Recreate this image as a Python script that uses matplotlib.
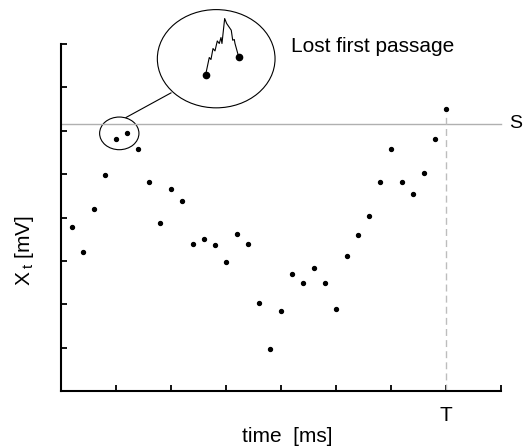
import numpy as np
import matplotlib
matplotlib.use('Agg')
import matplotlib.pyplot as plt
from matplotlib.patches import Ellipse

plt.rcParams['font.family'] = ['Liberation Sans', 'DejaVu Sans']
plt.rcParams['mathtext.fontset'] = 'custom'
plt.rcParams['mathtext.rm'] = 'Liberation Sans'
plt.rcParams['mathtext.it'] = 'Liberation Sans'

# sampled membrane potential, one sample every 0.2 ms
t_samples = np.arange(1, 36) * 0.2
x_samples = [3.78, 3.21, 4.19, 4.98, 5.80, 5.94, 5.58, 4.82, 3.88, 4.66,
             4.39, 3.38, 3.51, 3.36, 2.98, 3.63, 3.38, 2.03, 0.98, 1.85,
             2.70, 2.48, 2.83, 2.48, 1.90, 3.11, 3.59, 4.03, 4.82, 5.57,
             4.82, 4.55, 5.03, 5.81, 6.50]
threshold = 6.16
T = 7.0

# continuous path between samples 5 and 6, drawn magnified in the bubble
zoom_t = [2.631, 2.696, 2.727, 2.764, 2.800, 2.842, 2.878, 2.909, 2.927,
          2.976, 3.013, 3.096, 3.122, 3.151, 3.164, 3.231]
zoom_x = [7.297, 7.689, 7.643, 7.896, 7.841, 8.071, 8.012, 8.150, 8.012,
          8.588, 8.472, 8.318, 8.088, 8.104, 8.012, 7.703]
zoom_threshold = 8.426

fig = plt.figure(figsize=(5.23, 4.46), dpi=100)
ax = fig.add_axes([0.1166, 0.1233, 0.8413, 0.778])
ax.set_xlim(0, 8)
ax.set_ylim(0, 8)

for side in ['top', 'right']:
    ax.spines[side].set_visible(False)
for side in ['left', 'bottom']:
    ax.spines[side].set_linewidth(1.5)

ax.set_xticks(np.arange(1, 9))
ax.set_xticklabels(['', '', '', '', '', '', 'T', ''])
ax.set_yticks(np.arange(1, 9))
ax.set_yticklabels([])
ax.tick_params(direction='in', length=4, width=1.3, labelsize=15, pad=11)

# threshold and final time
ax.plot([0, 8], [threshold, threshold], color='#b0b0b0', lw=1.0, clip_on=False)
ax.plot([T, T], [0, 6.4], color='#bdbdbd', lw=1.0, ls=(0, (5, 3)))
ax.text(8.14, threshold, 'S', fontsize=14, va='center', ha='left')

ax.scatter(t_samples, x_samples, s=8, color='black', zorder=3, clip_on=False)

# magnifier bubble
small = Ellipse((1.06, 5.94), 0.715, 0.753, fill=False, lw=0.8, color='black')
ax.add_patch(small)
big = Ellipse((2.822, 7.661), 2.14, 2.265, fill=False, lw=0.8, color='black',
              clip_on=False)
ax.add_patch(big)
ax.plot([1.182, 2.0], [6.306, 6.873], color='black', lw=0.8, clip_on=False)

chord, = ax.plot([1.5, 4.0], [zoom_threshold, zoom_threshold],
                 color='#b0b0b0', lw=1.0)
chord.set_clip_path(big)
ax.plot(zoom_t, zoom_x, color='black', lw=0.8, clip_on=False)
ax.plot([zoom_t[0], zoom_t[-1]], [zoom_x[0], zoom_x[-1]], 'o', color='black',
        ms=4.5, clip_on=False)

ax.text(4.18, 7.95, 'Lost first passage', fontsize=15, va='center',
        ha='left')

ax.text(0.514, -0.105, 'time  [ms]', transform=ax.transAxes, fontsize=15,
        ha='center', va='top')
ax.text(-0.084, 0.406, r'X$\,_{\rm t}$ [mV]', transform=ax.transAxes,
        fontsize=15, rotation=90, ha='center', va='center')

plt.savefig('out.png', dpi=100)
